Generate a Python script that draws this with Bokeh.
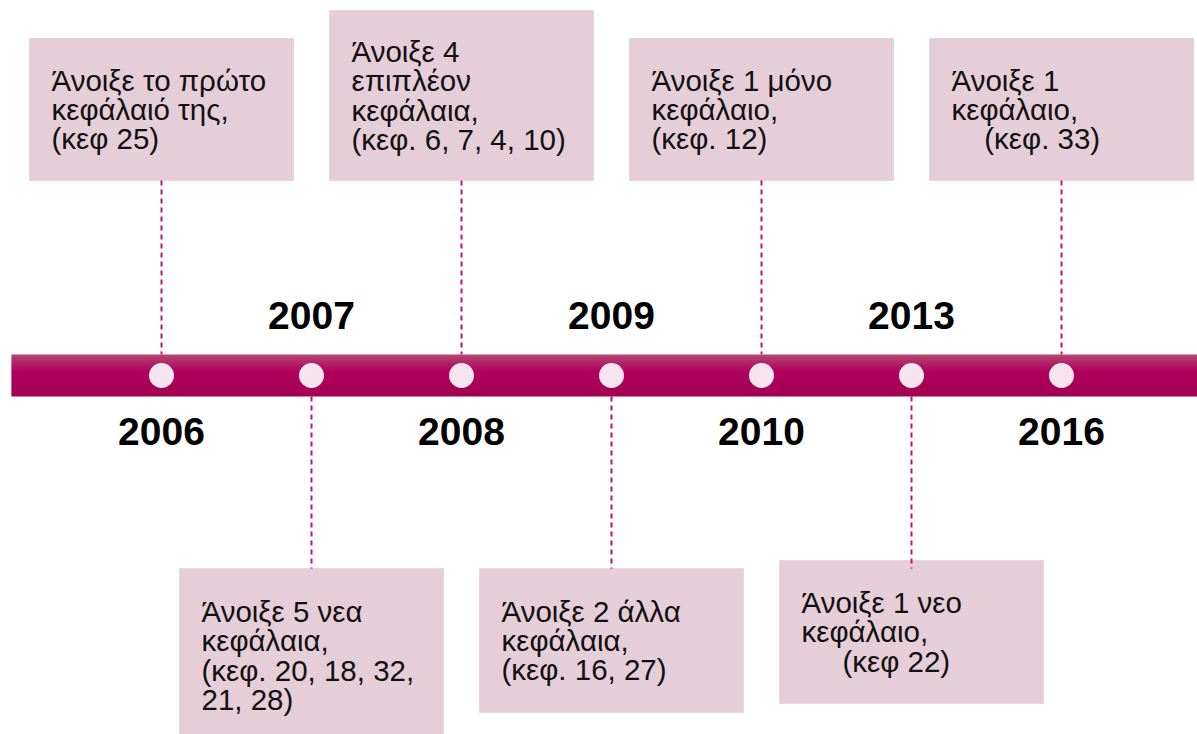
from bokeh.plotting import figure
from bokeh.models import Range1d, ColumnDataSource
from bokeh.core.properties import value
from bokeh.embed import file_html
from bokeh.resources import INLINE

NB = "\u00a0"

# ---- data ----
years = ["2006", "2007", "2008", "2009", "2010", "2013", "2016"]
sides = ["top", "bottom", "top", "bottom", "top", "bottom", "top"]
notes = [
    "Άνοιξε το πρώτο\nκεφάλαιό της,\n(κεφ 25)",
    "Άνοιξε 5 νεα\nκεφάλαια,\n(κεφ. 20, 18, 32,\n21, 28)",
    "Άνοιξε 4\nεπιπλέον\nκεφάλαια,\n(κεφ. 6, 7, 4, 10)",
    "Άνοιξε 2 άλλα\nκεφάλαια,\n(κεφ. 16, 27)",
    "Άνοιξε 1 μόνο\nκεφάλαιο,\n(κεφ. 12)",
    "Άνοιξε 1 νεο\nκεφάλαιο,\n" + NB * 5 + "(κεφ 22)",
    "Άνοιξε 1\nκεφάλαιο,\n" + NB * 4 + "(κεφ. 33)",
]

# ---- layout (pixel units on the y axis, slot units on the x axis) ----
W, H = 1197, 734
SLOT = 150.0
X0 = 161.0
idx = list(range(len(years)))
box_top = [38, 568, 10, 568, 38, 560, 38]
box_bot = [180, 742, 180, 712, 180, 703, 180]
BOX_W = 264 / SLOT
PAD = 22 / SLOT
BAR_T, BAR_B = 354, 396
DOT_Y = 375

p = figure(width=W, height=H, output_backend="svg", toolbar_location=None,
           x_range=Range1d(-X0 / SLOT, (W - X0) / SLOT), y_range=Range1d(H, 0),
           x_axis_location=None, y_axis_location=None, min_border=0)
p.grid.visible = False
p.outline_line_color = None
p.background_fill_color = "white"
p.border_fill_color = "white"

# note boxes
src = ColumnDataSource(dict(
    left=[i - BOX_W / 2 for i in idx], right=[i + BOX_W / 2 for i in idx],
    top=box_top, bottom=box_bot,
    tx=[i - BOX_W / 2 + PAD for i in idx],
    ty=[(a + b) / 2 for a, b in zip(box_top, box_bot)],
    note=notes,
))
p.quad(left="left", right="right", top="top", bottom="bottom", source=src,
       fill_color="#e5ced7", line_color="#e9d6dd", line_width=1)
p.text(x="tx", y="ty", text="note", source=src, text_font=value("Liberation Sans"),
       text_font_size="29.5px", text_color="#111111", text_baseline="middle",
       text_align="left", text_line_height=0.885)

# connectors
cx, cy0, cy1 = [], [], []
for i, s in zip(idx, sides):
    cx.append(i)
    if s == "top":
        cy0.append(180); cy1.append(BAR_T)
    else:
        cy0.append(BAR_B); cy1.append(568)
p.segment(x0=cx, y0=cy0, x1=cx, y1=cy1, line_color="#c0126a",
          line_width=2, line_dash="5 4")

# gradient bar
def lerp(a, b, t):
    return tuple(int(round(x + (y - x) * t)) for x, y in zip(a, b))

c_top, c_mid, c_bot = (180, 72, 116), (176, 0, 94), (162, 0, 80)
n = 21
step = (BAR_B - BAR_T) / n
tops, bots, cols = [], [], []
for k in range(n):
    t = (k + 0.5) / n
    if t < 0.4:
        c = lerp(c_top, c_mid, t / 0.4)
    else:
        c = lerp(c_mid, c_bot, (t - 0.4) / 0.6)
    tops.append(BAR_T + step * k)
    bots.append(min(BAR_T + step * (k + 1) + 1.0, BAR_B))
    cols.append("#%02x%02x%02x" % c)
p.quad(left=-1.0, right=8.0, top=tops, bottom=bots, fill_color=cols, line_color=None)

# dots
p.scatter(x=idx, y=[DOT_Y] * len(idx), size=25, fill_color="#f6e4ee", line_color=None)

# year labels
yl_y = [431 if s == "top" else 315 for s in sides]
p.text(x=idx, y=yl_y, text=years, text_font=value("Liberation Sans"),
       text_font_style="bold", text_font_size="39px", text_color="#000000",
       text_align="center", text_baseline="alphabetic")

open("out.html", "w").write(file_html(p, INLINE))
